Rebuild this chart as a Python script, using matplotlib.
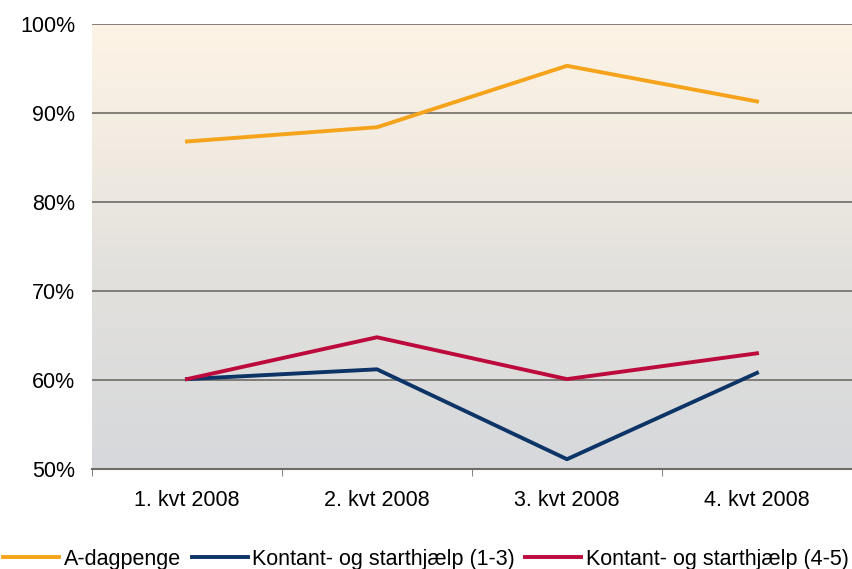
import numpy as np
import matplotlib.pyplot as plt
from matplotlib.colors import LinearSegmentedColormap

plt.rcParams['font.family'] = ['Liberation Sans', 'DejaVu Sans']

quarters = ['1. kvt 2008', '2. kvt 2008', '3. kvt 2008', '4. kvt 2008']
a_dagpenge = [86.8, 88.4, 95.3, 91.3]
kontant_13 = [60.1, 61.2, 51.1, 60.8]
kontant_45 = [60.1, 64.8, 60.1, 63.0]

fig = plt.figure(figsize=(8.52, 5.69), dpi=100)
ax = fig.add_axes([92/852, 1 - 469/569, 760/852, 445/569])

# gradient background
cmap = LinearSegmentedColormap.from_list(
    'bg', [(0, '#d6d8db'), (0.45, '#e3e1dd'), (0.75, '#f3ece2'), (1, '#fdf4e5')])
grad = np.linspace(0, 1, 256).reshape(-1, 1)
ax.imshow(grad, cmap=cmap, aspect='auto', origin='lower',
          extent=[0, 1, 0, 1], transform=ax.transAxes, zorder=0)

x = np.arange(len(quarters))
ax.plot(x, a_dagpenge, color='#f5a31a', lw=2.8, label='A-dagpenge', zorder=3)
ax.plot(x, kontant_13, color='#0d3466', lw=2.8, label='Kontant- og starthjælp (1-3)', zorder=3)
ax.plot(x, kontant_45, color='#bc0a3c', lw=2.8, label='Kontant- og starthjælp (4-5)', zorder=3)

ax.set_xlim(-0.5, 3.5)
ax.set_ylim(50, 100)
ax.set_yticks(range(50, 101, 10))
ax.set_yticklabels([f'{v}%' for v in range(50, 101, 10)], fontsize=15.5)
for v in range(60, 101, 10):
    ax.axhline(v, color='#6f6b66', lw=1.2, zorder=1)

ax.set_xticks(x)
ax.set_xticklabels(quarters, fontsize=15.5)
ax.tick_params(axis='x', length=0, pad=15)
ax.set_xticks(np.arange(-0.5, 4, 1), minor=True)
ax.tick_params(axis='x', which='minor', length=5, color='#6f6b66', direction='out')
ax.tick_params(axis='y', length=0, pad=12)

for s in ['left', 'right', 'top']:
    ax.spines[s].set_visible(False)
ax.spines['bottom'].set_color('#6f6b66')
ax.spines['bottom'].set_linewidth(1.5)

fig.legend(loc='lower center', bbox_to_anchor=(0.5, -0.035), ncol=3, frameon=False,
           fontsize=15.5, handlelength=2.6, handletextpad=0.2, columnspacing=0.5)

fig.savefig('out.png', dpi=100)
